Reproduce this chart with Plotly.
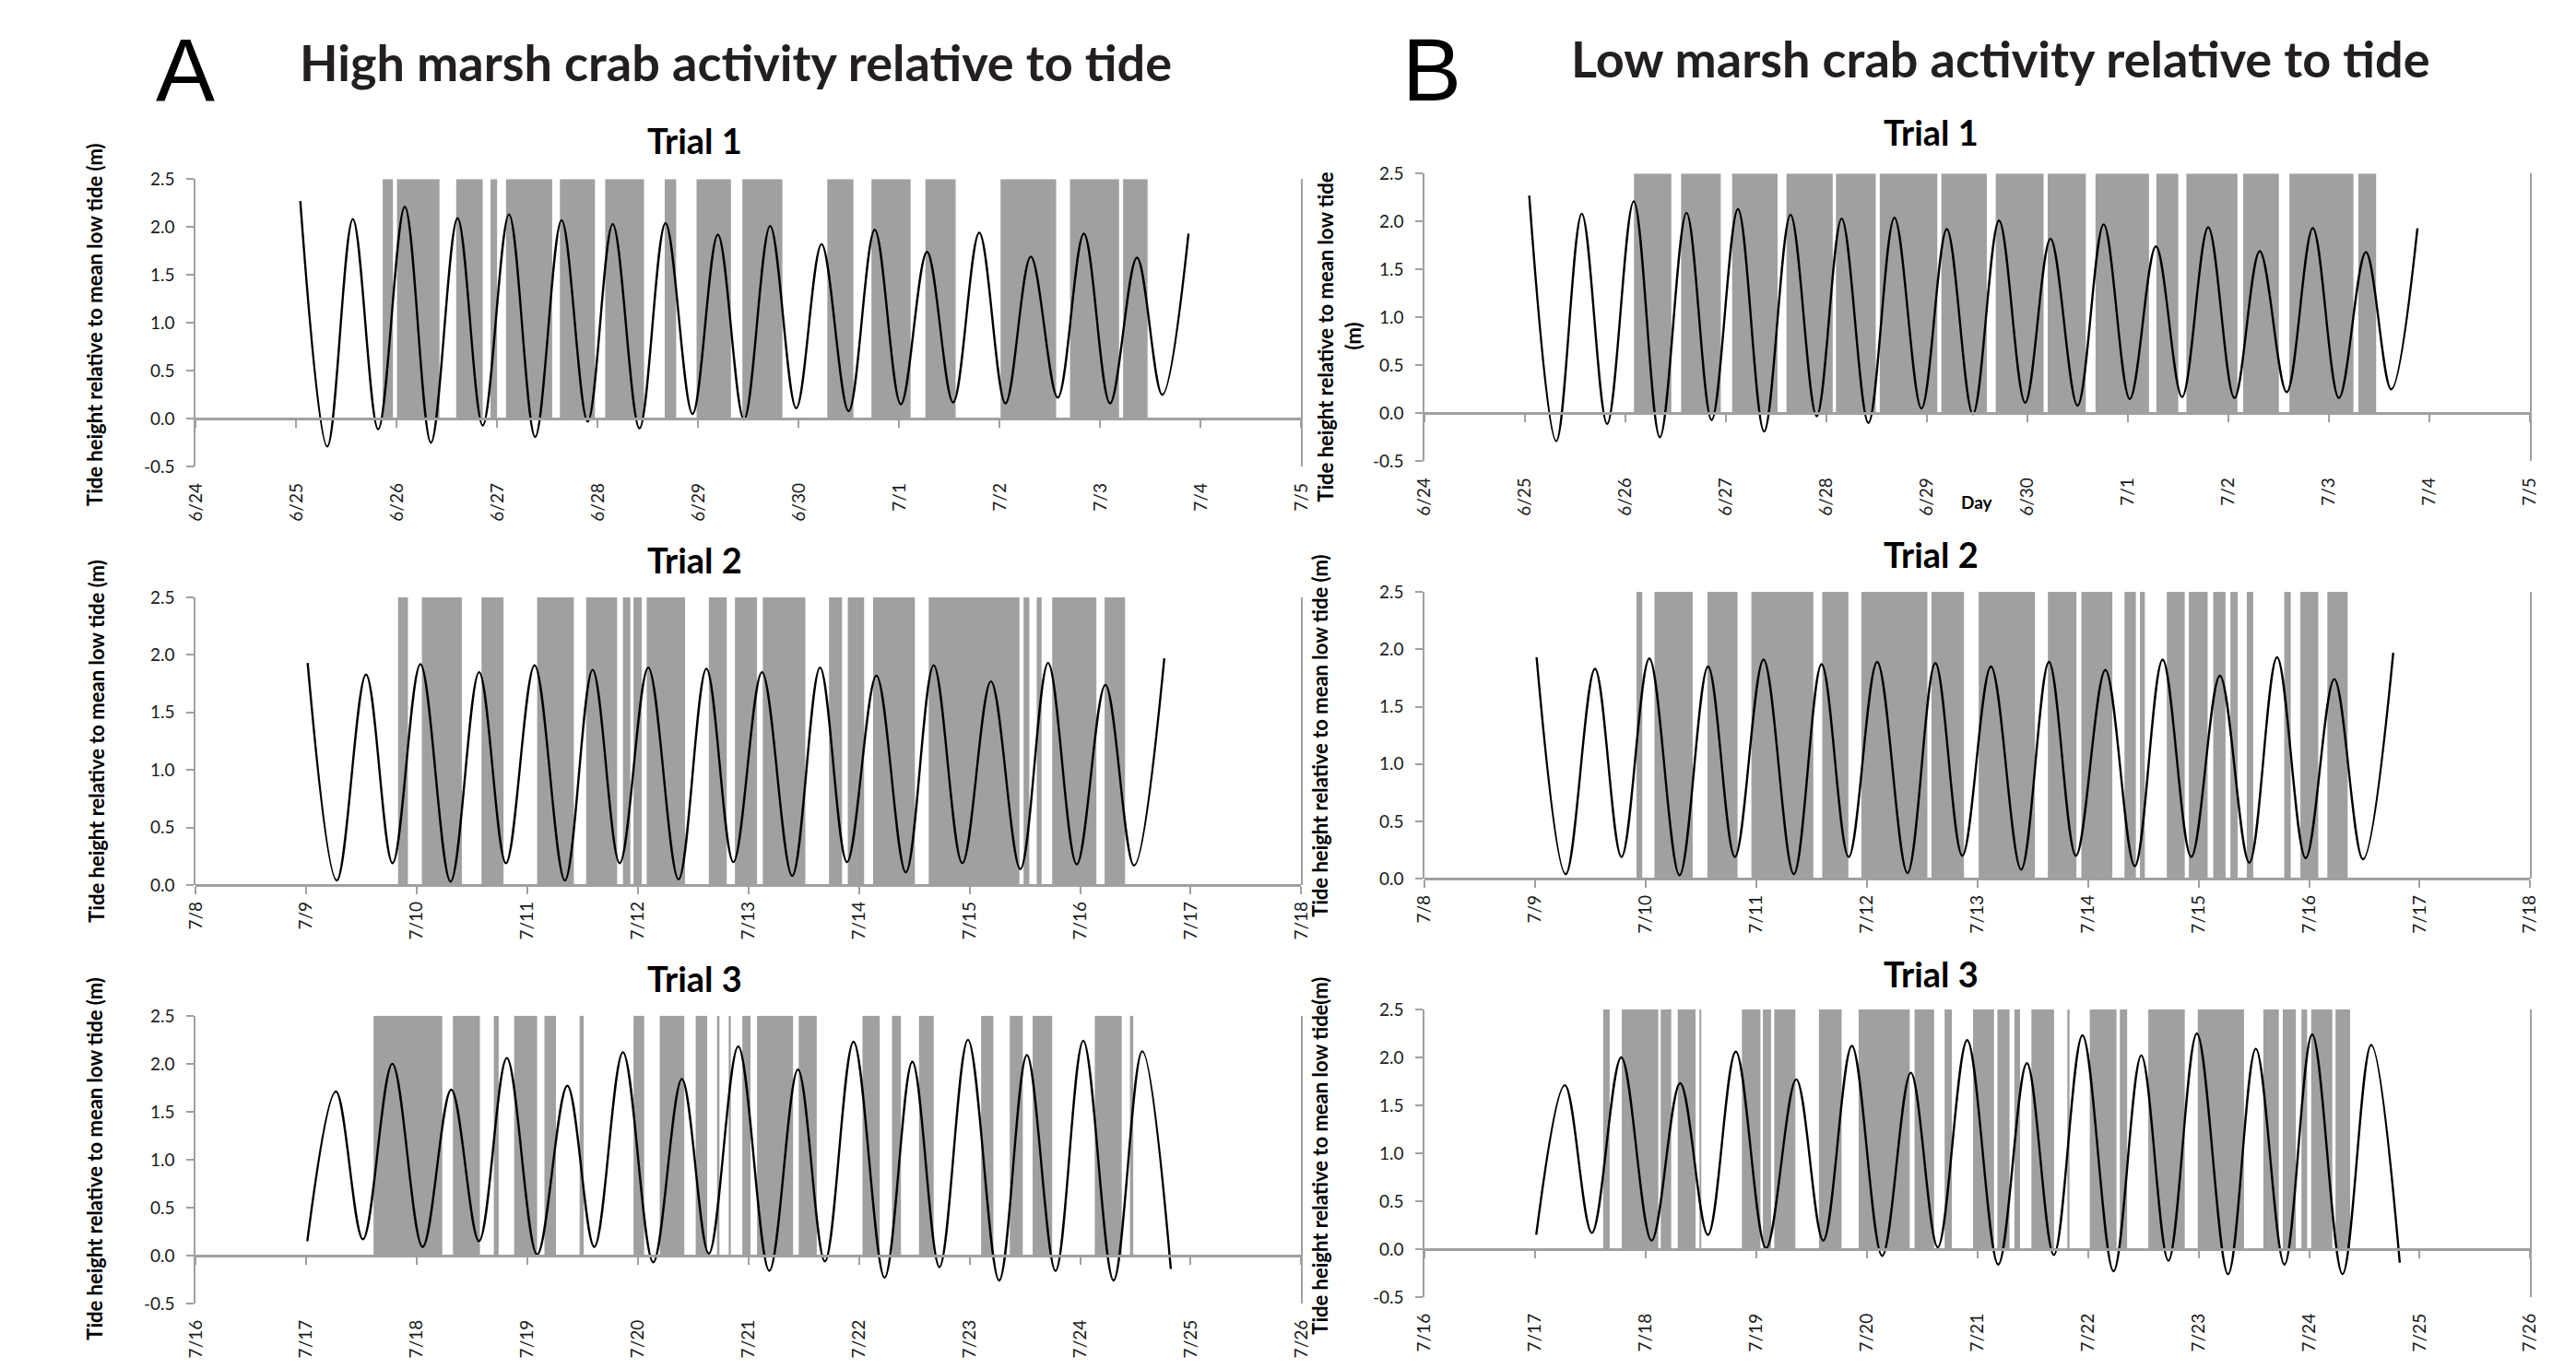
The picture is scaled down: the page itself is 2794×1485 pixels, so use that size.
import plotly.graph_objects as go

W, H = 2794, 1485

# ---------------- data ----------------
# x values are days after the first tick date of each trial's axis
TICKS_T1 = ["6/24", "6/25", "6/26", "6/27", "6/28", "6/29", "6/30", "7/1", "7/2", "7/3", "7/4", "7/5"]
TICKS_T2 = ["7/8", "7/9", "7/10", "7/11", "7/12", "7/13", "7/14", "7/15", "7/16", "7/17", "7/18"]
TICKS_T3 = ["7/16", "7/17", "7/18", "7/19", "7/20", "7/21", "7/22", "7/23", "7/24", "7/25", "7/26"]

Y_TICKS_NEG = [-0.5, 0.0, 0.5, 1.0, 1.5, 2.0, 2.5]
Y_TEXT_NEG = ["-0.5", "0.0", "0.5", "1.0", "1.5", "2.0", "2.5"]
Y_TICKS_POS = [0.0, 0.5, 1.0, 1.5, 2.0, 2.5]
Y_TEXT_POS = ["0.0", "0.5", "1.0", "1.5", "2.0", "2.5"]

# tide extremes (day, metres)
TIDE1_DAY = [1.040, 1.309, 1.563, 1.815, 2.080, 2.340, 2.605, 2.855, 3.117, 3.377, 3.640, 3.900,
             4.149, 4.415, 4.674, 4.943, 5.195, 5.455, 5.715, 5.975, 6.227, 6.496, 6.756, 7.016,
             7.276, 7.536, 7.796, 8.057, 8.309, 8.577, 8.837, 9.097, 9.365, 9.617, 9.878]
TIDE1_M = [2.27, -0.29, 2.08, -0.11, 2.21, -0.25, 2.09, -0.07, 2.13, -0.19, 2.07, -0.03,
           2.03, -0.10, 2.04, 0.05, 1.92, -0.01, 2.01, 0.11, 1.82, 0.08, 1.97, 0.15,
           1.74, 0.17, 1.94, 0.16, 1.69, 0.22, 1.93, 0.16, 1.68, 0.25, 1.93]

TIDE2_DAY = [1.012, 1.276, 1.540, 1.780, 2.032, 2.305, 2.563, 2.806, 3.065, 3.339, 3.590, 3.835,
             4.093, 4.367, 4.619, 4.863, 5.122, 5.395, 5.647, 5.891, 6.157, 6.423, 6.675, 6.934,
             7.193, 7.459, 7.710, 7.969, 8.228, 8.487, 8.761]
TIDE2_M = [1.93, 0.04, 1.83, 0.19, 1.92, 0.03, 1.85, 0.19, 1.91, 0.04, 1.87, 0.19,
           1.89, 0.05, 1.88, 0.20, 1.85, 0.08, 1.89, 0.20, 1.82, 0.11, 1.91, 0.19,
           1.77, 0.14, 1.93, 0.18, 1.74, 0.17, 1.97]

TIDE3_DAY = [1.009, 1.268, 1.512, 1.778, 2.052, 2.311, 2.562, 2.814, 3.088, 3.361, 3.605, 3.864,
             4.138, 4.397, 4.641, 4.907, 5.188, 5.447, 5.691, 5.950, 6.231, 6.482, 6.727, 6.985,
             7.267, 7.518, 7.777, 8.028, 8.302, 8.561, 8.820]
TIDE3_M = [0.15, 1.71, 0.17, 2.00, 0.09, 1.73, 0.15, 2.06, 0.01, 1.77, 0.09, 2.12,
           -0.07, 1.84, 0.02, 2.18, -0.16, 1.94, -0.06, 2.23, -0.23, 2.02, -0.12, 2.25,
           -0.26, 2.09, -0.16, 2.24, -0.26, 2.13, -0.14]

# crab activity periods (start day, end day)
HIGH1_START = [1.860, 2.002, 2.591, 2.933, 3.087, 3.623, 4.074, 4.666, 4.983, 5.439, 6.284, 6.723, 7.260, 8.008, 8.699, 9.227]
HIGH1_END = [1.962, 2.425, 2.855, 2.998, 3.546, 3.972, 4.460, 4.780, 5.325, 5.837, 6.544, 7.113, 7.561, 8.561, 9.187, 9.471]

HIGH2_START = [1.830, 2.045, 2.585, 3.088, 3.531, 3.864, 3.960, 4.079, 4.641, 4.877, 5.129, 5.728, 5.898, 6.127, 6.630, 7.488, 7.607, 7.747, 8.221]
HIGH2_END = [1.919, 2.407, 2.784, 3.420, 3.812, 3.931, 4.034, 4.426, 4.803, 5.077, 5.514, 5.846, 6.046, 6.505, 7.451, 7.540, 7.651, 8.147, 8.406]

HIGH3_START = [1.608, 2.326, 2.696, 2.880, 3.154, 3.472, 3.960, 4.197, 4.522, 4.715, 4.826, 4.944, 5.077, 5.454, 6.031, 6.298, 6.542, 7.104, 7.363, 7.570, 8.132, 8.450]
HIGH3_END = [2.230, 2.570, 2.740, 3.088, 3.258, 3.509, 4.056, 4.419, 4.626, 4.737, 4.840, 5.018, 5.403, 5.617, 6.187, 6.379, 6.675, 7.215, 7.481, 7.747, 8.376, 8.480]

LOW1_START = [2.082, 2.551, 3.059, 3.600, 4.092, 4.528, 5.141, 5.682, 6.199, 6.675, 7.280, 7.579, 8.144, 8.604, 9.290]
LOW1_END = [2.454, 2.946, 3.511, 4.060, 4.488, 5.101, 5.593, 6.158, 6.578, 7.207, 7.498, 8.087, 8.499, 9.241, 9.467]

LOW2_START = [1.916, 2.078, 2.557, 2.955, 3.596, 3.950, 4.584, 5.011, 5.637, 5.940, 6.330, 6.470, 6.713, 6.912, 7.133, 7.288, 7.436, 7.775, 7.921, 8.165]
LOW2_END = [1.968, 2.424, 2.830, 3.515, 3.832, 4.547, 4.878, 5.520, 5.895, 6.220, 6.433, 6.514, 6.875, 7.082, 7.244, 7.354, 7.495, 7.834, 8.083, 8.349]

LOW3_START = [1.614, 1.783, 2.135, 2.289, 2.487, 2.869, 3.059, 3.162, 3.566, 3.925, 4.431, 4.703, 4.960, 5.180, 5.334, 5.488, 5.818, 6.016, 6.288, 6.545, 6.993, 7.586, 7.762, 7.931, 8.019, 8.239]
LOW3_END = [1.673, 2.113, 2.230, 2.450, 2.502, 3.037, 3.133, 3.353, 3.771, 4.387, 4.608, 4.769, 5.150, 5.290, 5.385, 5.693, 5.833, 6.258, 6.354, 6.875, 7.411, 7.726, 7.880, 7.982, 8.210, 8.371]

YTITLE = "Tide height relative to mean low tide (m)"

# ---------------- layout description ----------------
GREY = "#a0a0a0"
FONT = "Lato"

panels = [
    dict(box=(201, 185, 1410, 502), ticks=TICKS_T1, neg=True, tide=(TIDE1_DAY, TIDE1_M),
         act=(HIGH1_START, HIGH1_END), title="Trial 1", tpos=(747, 142)),
    dict(box=(201, 646, 1410, 963), ticks=TICKS_T2, neg=False, tide=(TIDE2_DAY, TIDE2_M),
         act=(HIGH2_START, HIGH2_END), title="Trial 2", tpos=(747, 604)),
    dict(box=(201, 1107, 1410, 1424), ticks=TICKS_T3, neg=True, tide=(TIDE3_DAY, TIDE3_M),
         act=(HIGH3_START, HIGH3_END), title="Trial 3", tpos=(747, 1066)),
    dict(box=(1545, 179, 2754, 496), ticks=TICKS_T1, neg=True, tide=(TIDE1_DAY, TIDE1_M),
         act=(LOW1_START, LOW1_END), title="Trial 1", tpos=(2099, 133)),
    dict(box=(1545, 640, 2754, 956), ticks=TICKS_T2, neg=False, tide=(TIDE2_DAY, TIDE2_M),
         act=(LOW2_START, LOW2_END), title="Trial 2", tpos=(2099, 598)),
    dict(box=(1545, 1100, 2754, 1417), ticks=TICKS_T3, neg=True, tide=(TIDE3_DAY, TIDE3_M),
         act=(LOW3_START, LOW3_END), title="Trial 3", tpos=(2099, 1060)),
]


def sx(v):
    return v / W


def sy(v):
    return 1 - v / H


fig = go.Figure()
layout = {}
annotations = []

for i, p in enumerate(panels, start=1):
    suf = "" if i == 1 else str(i)
    x0, y0, x1, y1 = p["box"]
    ndays = len(p["ticks"]) - 1
    yr = [-0.5, 2.5] if p["neg"] else [0.0, 2.5]
    starts, ends = p["act"]

    fig.add_trace(go.Bar(
        x=[(s + e) / 2 for s, e in zip(starts, ends)],
        width=[e - s for s, e in zip(starts, ends)],
        y=[2.5] * len(starts), base=0,
        marker=dict(color=GREY, line=dict(width=0)),
        xaxis="x" + suf, yaxis="y" + suf, showlegend=False, hoverinfo="skip",
    ))
    fig.add_trace(go.Scatter(
        x=p["tide"][0], y=p["tide"][1], mode="lines",
        line=dict(color="black", width=2.4, shape="spline", smoothing=1.0),
        xaxis="x" + suf, yaxis="y" + suf, showlegend=False, hoverinfo="skip",
    ))
    # empty trace so that the zero-level axis (with its tick marks) gets drawn
    fig.add_trace(go.Scatter(
        x=[], y=[], mode="lines", xaxis="x" + str(i + 6), yaxis="y" + suf,
        showlegend=False, hoverinfo="skip",
    ))

    # label axis at the bottom
    layout["xaxis" + suf] = dict(
        domain=[sx(x0), sx(x1)], range=[0, ndays], anchor="y" + suf,
        tickmode="array", tickvals=list(range(ndays + 1)), ticktext=p["ticks"],
        tickangle=-90, ticks="", showline=False, showgrid=False, zeroline=False,
        ticklabelstandoff=13, tickfont=dict(family=FONT, size=19, color="#1a1a1a"),
    )
    layout["yaxis" + suf] = dict(
        domain=[sy(y1), sy(y0)], range=yr, anchor="x" + suf,
        tickmode="array",
        tickvals=Y_TICKS_NEG if p["neg"] else Y_TICKS_POS,
        ticktext=Y_TEXT_NEG if p["neg"] else Y_TEXT_POS,
        ticks="outside", ticklen=8, tickwidth=2, tickcolor=GREY,
        showline=True, linecolor=GREY, linewidth=2, mirror=True,
        showgrid=False, zeroline=False, ticklabelstandoff=9,
        tickfont=dict(family=FONT, size=19, color="#1a1a1a"),
    )
    # axis line with tick marks drawn at height 0
    zero_px = y1 - (0 - yr[0]) / (yr[1] - yr[0]) * (y1 - y0)
    layout["xaxis" + str(i + 6)] = dict(
        overlaying="x" + suf, anchor="free", position=sy(zero_px),
        range=[0, ndays], tickmode="array", tickvals=list(range(ndays + 1)),
        showticklabels=False, ticks="outside", ticklen=8, tickwidth=2, tickcolor=GREY,
        showline=True, linecolor=GREY, linewidth=2.5, showgrid=False, zeroline=False,
    )

    annotations.append(dict(
        text="<b>%s</b>" % p["title"], x=sx(p["tpos"][0]), y=sy(p["tpos"][1]),
        xref="paper", yref="paper", xanchor="center", yanchor="middle", showarrow=False,
        font=dict(family=FONT, size=38, color="black"),
    ))

# y-axis titles
ytitles = [
    (YTITLE, 90, 346), (YTITLE, 92, 805), (YTITLE, 90, 1265),
    (YTITLE, 1430, 799), ("Tide height relative to mean low tide(m)", 1430, 1261),
]
for txt, xx, yy in ytitles:
    annotations.append(dict(
        text="<b>%s</b>" % txt, x=sx(xx), y=sy(yy), xref="paper", yref="paper",
        xanchor="center", yanchor="middle", textangle=-90, showarrow=False,
        font=dict(family=FONT, size=22, color="black"),
    ))
# two-line y title of panel B, trial 1
annotations.append(dict(
    text="<b>Tide height relative to mean low tide</b>", x=sx(1436), y=sy(359),
    xref="paper", yref="paper", xanchor="center", yanchor="middle", textangle=-90,
    showarrow=False, font=dict(family=FONT, size=22, color="black"),
))
annotations.append(dict(
    text="<b>(m)</b>", x=sx(1467), y=sy(358), xref="paper", yref="paper",
    xanchor="center", yanchor="middle", textangle=-90, showarrow=False,
    font=dict(family=FONT, size=22, color="black"),
))
# x-axis title of panel B, trial 1
annotations.append(dict(
    text="<b>Day</b>", x=sx(2149), y=sy(541), xref="paper", yref="paper",
    xanchor="center", yanchor="middle", showarrow=False,
    font=dict(family=FONT, size=19, color="black"),
))

# panel letters and headings
annotations += [
    dict(text="A", x=sx(190), y=sy(64), xref="paper", yref="paper", xanchor="center",
         yanchor="middle", showarrow=False,
         font=dict(family="Liberation Sans", size=96, color="black")),
    dict(text="B", x=sx(1553), y=sy(64), xref="paper", yref="paper", xanchor="center",
         yanchor="middle", showarrow=False,
         font=dict(family="Liberation Sans", size=96, color="black")),
    dict(text="<b>High marsh crab activity relative to tide</b>", x=sx(792), y=sy(56),
         xref="paper", yref="paper", xanchor="center", yanchor="middle", showarrow=False,
         font=dict(family=FONT, size=54, color="#231f20")),
    dict(text="<b>Low marsh crab activity relative to tide</b>", x=sx(2175), y=sy(52),
         xref="paper", yref="paper", xanchor="center", yanchor="middle", showarrow=False,
         font=dict(family=FONT, size=54, color="#231f20")),
]

fig.update_layout(
    width=W, height=H, autosize=False,
    margin=dict(l=0, r=0, t=0, b=0),
    paper_bgcolor="white", plot_bgcolor="white",
    barmode="overlay", showlegend=False,
    annotations=annotations,
    **layout,
)

fig.write_html("out.html")
